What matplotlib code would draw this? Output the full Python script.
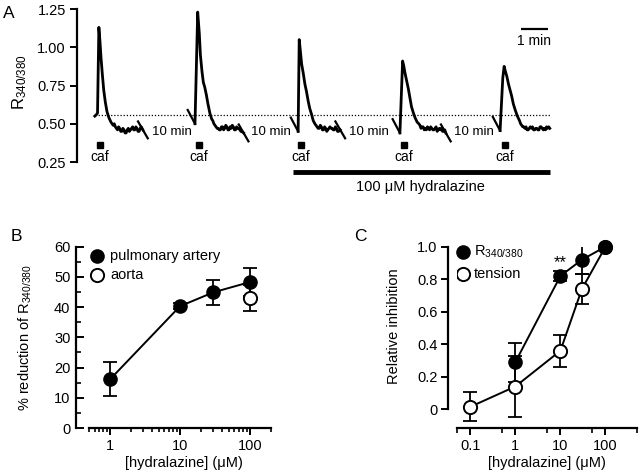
import matplotlib
matplotlib.use('Agg')
import matplotlib.pyplot as plt
from matplotlib.ticker import FixedLocator, LogLocator, MultipleLocator, NullFormatter

plt.rcParams['font.family'] = ['Liberation Sans', 'DejaVu Sans']
plt.rcParams['mathtext.fontset'] = 'custom'
plt.rcParams['mathtext.rm'] = 'Liberation Sans'
plt.rcParams['mathtext.it'] = 'Liberation Sans:italic'
plt.rcParams['mathtext.bf'] = 'Liberation Sans:bold'
plt.rcParams['font.size'] = 10

# ---- panel A: R340/380 traces (display time in min from each onset) ----
trace_onsets = [0.66, 4.37, 8.19, 11.96, 15.67]

t_a1 = [0, 0.06, 0.1, 0.15, 0.19, 0.23, 0.28, 0.33, 0.39, 0.45, 0.52, 0.6, 0.64, 0.68, 0.72, 0.76,
        0.8, 0.84, 0.88, 0.92, 0.96, 1.0, 1.04, 1.08, 1.12, 1.16, 1.2, 1.24, 1.28, 1.32, 1.36,
        1.4, 1.44, 1.48, 1.52, 1.56, 1.6, 1.64, 1.68, 1.72, 1.78]
r_a1 = [0.55, 0.56, 0.57, 1.13, 1.04, 0.93, 0.82, 0.72, 0.64, 0.58, 0.54, 0.51, 0.5, 0.49, 0.5, 0.48,
        0.47, 0.46, 0.48, 0.47, 0.45, 0.45, 0.47, 0.46, 0.44, 0.44, 0.46, 0.47, 0.45, 0.46, 0.47,
        0.48, 0.46, 0.46, 0.48, 0.47, 0.45, 0.45, 0.47, 0.48, 0.46]

t_a2 = [0, 0.1, 0.16, 0.2, 0.26, 0.31, 0.36, 0.42, 0.48, 0.55, 0.62, 0.66, 0.7, 0.74, 0.78, 0.82,
        0.86, 0.9, 0.94, 0.98, 1.02, 1.06, 1.1, 1.14, 1.18, 1.22, 1.26, 1.3, 1.34, 1.38, 1.42,
        1.46, 1.5, 1.54, 1.58, 1.62, 1.66, 1.7, 1.74, 1.8]
r_a2 = [0.5, 1.23, 1.09, 0.95, 0.84, 0.77, 0.74, 0.69, 0.63, 0.57, 0.53, 0.52, 0.5, 0.49, 0.48, 0.47,
        0.47, 0.46, 0.46, 0.48, 0.48, 0.46, 0.47, 0.49, 0.48, 0.46, 0.46, 0.48, 0.47, 0.49, 0.48,
        0.46, 0.46, 0.48, 0.47, 0.47, 0.46, 0.45, 0.45, 0.44]

t_a3 = [0, 0.04, 0.08, 0.13, 0.19, 0.25, 0.31, 0.37, 0.43, 0.5, 0.56, 0.62, 0.66, 0.7, 0.74, 0.78,
        0.82, 0.86, 0.9, 0.94, 0.98, 1.02, 1.06, 1.1, 1.14, 1.18, 1.22, 1.26, 1.3, 1.34, 1.38,
        1.42, 1.46, 1.5, 1.56]
r_a3 = [0.45, 1.05, 0.98, 0.89, 0.83, 0.76, 0.71, 0.65, 0.6, 0.56, 0.52, 0.5, 0.49, 0.48, 0.47, 0.47,
        0.49, 0.48, 0.46, 0.46, 0.48, 0.47, 0.45, 0.46, 0.47, 0.48, 0.47, 0.47, 0.46, 0.46, 0.48,
        0.47, 0.45, 0.45, 0.46]

t_a4 = [0, 0.1, 0.14, 0.19, 0.25, 0.31, 0.37, 0.43, 0.5, 0.56, 0.64, 0.7, 0.74, 0.78, 0.82, 0.86,
        0.9, 0.94, 0.98, 1.02, 1.06, 1.1, 1.14, 1.18, 1.22, 1.26, 1.3, 1.34, 1.38, 1.42, 1.46,
        1.5, 1.54, 1.58, 1.62, 1.66, 1.7]
r_a4 = [0.44, 0.91, 0.88, 0.83, 0.78, 0.73, 0.67, 0.61, 0.57, 0.54, 0.51, 0.5, 0.49, 0.47, 0.48, 0.48,
        0.46, 0.47, 0.46, 0.48, 0.47, 0.46, 0.48, 0.47, 0.46, 0.46, 0.47, 0.48, 0.45, 0.46, 0.47,
        0.46, 0.47, 0.45, 0.45, 0.46, 0.44]

t_a5 = [0, 0.1, 0.15, 0.2, 0.25, 0.31, 0.37, 0.43, 0.49, 0.56, 0.64, 0.72, 0.76, 0.8, 0.84, 0.88,
        0.92, 0.96, 1.0, 1.04, 1.08, 1.12, 1.16, 1.2, 1.24, 1.28, 1.32, 1.36, 1.4, 1.44, 1.48,
        1.52, 1.56, 1.6, 1.64, 1.68, 1.72, 1.76, 1.8, 1.84]
r_a5 = [0.455, 0.8, 0.875, 0.84, 0.81, 0.76, 0.72, 0.68, 0.63, 0.59, 0.55, 0.52, 0.5, 0.49, 0.48, 0.48,
        0.47, 0.48, 0.46, 0.46, 0.47, 0.48, 0.47, 0.48, 0.46, 0.46, 0.47, 0.47, 0.46, 0.46, 0.48,
        0.48, 0.47, 0.46, 0.47, 0.46, 0.48, 0.47, 0.48, 0.47]

traces = [(t_a1, r_a1), (t_a2, r_a2), (t_a3, r_a3), (t_a4, r_a4), (t_a5, r_a5)]
caf_times = [0.85, 4.52, 8.3, 12.1, 15.85]
gap_label_x = [3.52, 7.17, 10.83, 14.69]
gap_labels = ['10 min', '10 min', '10 min', '10 min']
baseline_ratio = 0.555
hydralazine_span = [8.0, 17.52]

# ---- panel B ----
conc_b = [1, 10, 30, 100]
pa_mean = [16.1, 40.3, 44.9, 48.3]
pa_err = [5.6, 1.0, 4.1, 4.6]
aorta_conc = [100]
aorta_mean = [43.0]
aorta_err = [4.2]

# ---- panel C ----
conc_r = [1, 10, 30, 100]
r_mean = [0.29, 0.82, 0.92, 1.0]
r_err = [0.12, 0.03, 0.085, 0.0]
conc_t = [0.1, 1, 10, 30, 100]
t_mean = [0.015, 0.14, 0.36, 0.74, 1.0]
t_err = [0.09, 0.19, 0.097, 0.09, 0.0]

W, H = 640, 474
fig = plt.figure(figsize=(6.4, 4.74), dpi=100)


def box(x0, y_top, x1, y_bot):
    return [x0 / W, 1 - y_bot / H, (x1 - x0) / W, (y_bot - y_top) / H]


# ================= A =================
ax = fig.add_axes(box(77, 9, 555, 162))
ax.set_xlim(0, (555 - 77) / 27)
ax.set_ylim(0.25, 1.25)
for s in ['top', 'right', 'bottom']:
    ax.spines[s].set_visible(False)
ax.spines['left'].set_linewidth(1.6)
ax.set_xticks([])
ax.set_yticks([0.25, 0.5, 0.75, 1.0, 1.25])
ax.set_yticklabels(['0.25', '0.50', '0.75', '1.00', '1.25'])
ax.tick_params(axis='y', direction='out', length=5, width=1.4, labelsize=10.5, pad=3)
ax.set_ylabel('R$_{340/380}$', fontsize=12)
ax.yaxis.set_label_coords(-0.1, 0.52)

ax.plot([trace_onsets[0], hydralazine_span[1]], [baseline_ratio, baseline_ratio],
        color='k', lw=0.9, ls=(0, (1, 1.5)))
for i, (tt, rr) in enumerate(traces):
    x = [trace_onsets[i] + v for v in tt]
    ax.plot(x, rr, color='k', lw=2.0, solid_joinstyle='round')
    if i > 0:
        ax.plot([x[0] - 0.27, x[0]], [rr[0] + 0.09, rr[0]], color='k', lw=1.6)
    if i < len(traces) - 1:
        ax.plot([x[-1] - 0.18, x[-1] + 0.18], [rr[-1] + 0.055, rr[-1] - 0.055],
                color='k', lw=1.6)
for xl, lab in zip(gap_label_x, gap_labels):
    ax.text(xl, 0.448, lab, ha='center', va='center', fontsize=9.5)
for c in caf_times:
    ax.plot([c], [0.362], marker='s', ms=4.5, color='k', clip_on=False)
    ax.text(c, 0.283, 'caf', ha='center', va='center', fontsize=10)
ax.plot(hydralazine_span, [0.185, 0.185], color='k', lw=3.5, clip_on=False,
        solid_capstyle='butt')
ax.text(sum(hydralazine_span) / 2 - 0.05, 0.085, '100 \u03bcM hydralazine',
        ha='center', va='center', fontsize=10.5)
ax.plot([16.44, 17.44], [1.12, 1.12], color='k', lw=1.6, solid_capstyle='butt')
ax.text(16.94, 1.04, '1 min', ha='center', va='center', fontsize=10)

# ================= B =================
bx = fig.add_axes(box(89, 246.7, 271, 428))
bx.set_xscale('log')
bx.set_xlim(0.5, 200)
bx.set_ylim(0, 60)
for s in ['top', 'right']:
    bx.spines[s].set_visible(False)
bx.spines['left'].set_position(('outward', 9.4))
for s in ['left', 'bottom']:
    bx.spines[s].set_linewidth(1.6)
bx.set_yticks([0, 10, 20, 30, 40, 50, 60])
bx.yaxis.set_minor_locator(MultipleLocator(5))
bx.set_xticks([1, 10, 100])
bx.set_xticklabels(['1', '10', '100'])
bx.xaxis.set_minor_locator(LogLocator(base=10, subs=[2, 3, 4, 5, 6, 7, 8, 9]))
bx.xaxis.set_minor_formatter(NullFormatter())
bx.tick_params(axis='y', which='major', direction='in', length=6, width=1.4, labelsize=10.5, pad=4)
bx.tick_params(axis='y', which='minor', direction='in', length=3.5, width=1.2)
bx.tick_params(axis='x', which='major', direction='out', length=5, width=1.4, labelsize=10.5, pad=3)
bx.tick_params(axis='x', which='minor', direction='out', length=3, width=1.2)
bx.set_ylabel('% reduction of R$_{340/380}$', fontsize=10.5)
bx.yaxis.set_label_coords(-0.3, 0.5)
bx.set_xlabel('[hydralazine] (\u03bcM)', fontsize=10.5)
bx.xaxis.set_label_coords(0.52, -0.155)

bx.errorbar(conc_b, pa_mean, yerr=pa_err, fmt='none', ecolor='k', elinewidth=1.3,
            capsize=5, capthick=1.3, zorder=2)
bx.errorbar(aorta_conc, aorta_mean, yerr=aorta_err, fmt='none', ecolor='k', elinewidth=1.3,
            capsize=5, capthick=1.3, zorder=2)
bx.plot(aorta_conc, aorta_mean, 'o', ms=9.5, mfc='white', mec='k', mew=1.4, zorder=3)
bx.plot(conc_b, pa_mean, '-o', color='k', lw=1.4, ms=9.5, zorder=4, clip_on=False)
bx.plot([0.645], [56.8], 'o', color='k', ms=9.5)
bx.plot([0.645], [50.5], 'o', ms=9.5, mfc='white', mec='k', mew=1.4)
bx.text(1.0, 56.8, 'pulmonary artery', va='center', fontsize=10.5)
bx.text(1.0, 50.5, 'aorta', va='center', fontsize=10.5)

# ================= C =================
cx = fig.add_axes(box(456.7, 246.7, 637, 428.3))
cx.set_xscale('log')
cx.set_xlim(0.05, 500)
cx.set_ylim(-0.117, 1.0)
for s in ['top', 'right']:
    cx.spines[s].set_visible(False)
cx.spines['left'].set_position(('outward', 6))
cx.spines['left'].set_bounds(0, 1.0)
for s in ['left', 'bottom']:
    cx.spines[s].set_linewidth(1.6)
cx.set_yticks([0, 0.2, 0.4, 0.6, 0.8, 1.0])
cx.set_yticklabels(['0', '0.2', '0.4', '0.6', '0.8', '1.0'])
cx.set_xticks([0.1, 1, 10, 100])
cx.set_xticklabels(['0.1', '1', '10', '100'])
cx.xaxis.set_minor_locator(FixedLocator([0.05, 0.5, 5, 50, 500]))
cx.xaxis.set_minor_formatter(NullFormatter())
cx.tick_params(axis='y', direction='out', length=5, width=1.4, labelsize=10.5, pad=3)
cx.tick_params(axis='x', which='major', direction='out', length=5, width=1.4, labelsize=10.5, pad=3)
cx.tick_params(axis='x', which='minor', direction='out', length=3.5, width=1.2)
cx.set_ylabel('Relative inhibition', fontsize=10.5)
cx.yaxis.set_label_coords(-0.31, 0.56)
cx.set_xlabel('[hydralazine] (\u03bcM)', fontsize=10.5)
cx.xaxis.set_label_coords(0.5, -0.155)

cx.errorbar(conc_t, t_mean, yerr=t_err, fmt='none', ecolor='k', elinewidth=1.3,
            capsize=5, capthick=1.3, zorder=2)
cx.errorbar(conc_r, r_mean, yerr=r_err, fmt='none', ecolor='k', elinewidth=1.3,
            capsize=5, capthick=1.3, zorder=2)
cx.plot(conc_t, t_mean, '-o', color='k', lw=1.4, ms=9.5, mfc='white', mec='k', mew=1.4,
        zorder=3, clip_on=False)
cx.plot(conc_r, r_mean, '-o', color='k', lw=1.4, ms=9.5, zorder=4, clip_on=False)
cx.text(10, 0.9, '**', ha='center', va='center', fontsize=12)
cx.plot([0.0674], [0.969], 'o', color='k', ms=9.5, clip_on=False)
cx.plot([0.0674], [0.83], 'o', ms=9.5, mfc='white', mec='k', mew=1.4)
cx.text(0.118, 0.969, 'R$_{340/380}$', va='center', fontsize=10.5)
cx.text(0.118, 0.83, 'tension', va='center', fontsize=10.5)

fig.text(9 / W, 1 - 13 / H, 'A', ha='center', va='center', fontsize=12.5)
fig.text(16.5 / W, 1 - 236.5 / H, 'B', ha='center', va='center', fontsize=12.5)
fig.text(360 / W, 1 - 236.5 / H, 'C', ha='center', va='center', fontsize=12.5)

fig.savefig('out.png', dpi=100)
